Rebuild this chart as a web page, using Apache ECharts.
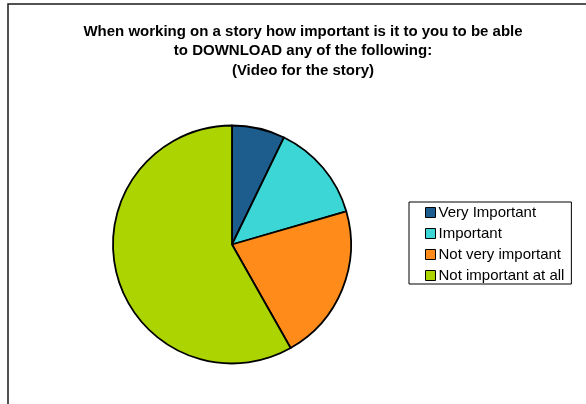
<!DOCTYPE html>
<html>
<head>
<meta charset="utf-8">
<script src="https://cdn.jsdelivr.net/npm/echarts@6/dist/echarts.min.js"></script>
<style>
  html, body { margin: 0; padding: 0; background: #ffffff; }
  #chart { width: 586px; height: 404px; }
</style>
</head>
<body>
<div id="chart"></div>
<script>
// Survey answers (share of respondents, %)
const categories = ['Very Important', 'Important', 'Not very important', 'Not important at all'];
const values = [7.2, 13.3, 21.3, 58.2];
const colors = ['#1c5d8e', '#3cd6d6', '#ff8c1a', '#abd400'];

const titleLines = [
  'When working on a story how important is it to you to be able',
  'to DOWNLOAD any of the following:',
  '(Video for the story)'
];

const FONT = '"Liberation Sans", Arial, Helvetica, sans-serif';

const chart = echarts.init(document.getElementById('chart'), null, { renderer: 'canvas' });

chart.setOption({
  backgroundColor: '#ffffff',
  animation: false,
  title: {
    text: titleLines.join('\n'),
    left: 298,
    top: 17,
    textAlign: 'center',
    textStyle: {
      fontFamily: FONT,
      fontSize: 15,
      fontWeight: 'bold',
      color: '#000000',
      lineHeight: 19.5
    }
  },
  legend: {
    orient: 'vertical',
    left: 409,
    top: 202,
    data: categories,
    icon: 'rect',
    itemWidth: 10,
    itemHeight: 10,
    itemGap: 6,
    padding: [3, 7, 1, 16],
    borderColor: '#000000',
    borderWidth: 1,
    backgroundColor: '#ffffff',
    selectedMode: false,
    itemStyle: { borderColor: '#000000', borderWidth: 1 },
    textStyle: {
      fontFamily: FONT,
      fontSize: 15,
      lineHeight: 15,
      color: '#000000',
      padding: [0, 0, 0, -2]
    }
  },
  graphic: [
    {
      type: 'rect',
      silent: true,
      shape: { x: 8, y: 4, width: 700, height: 500 },
      style: { fill: 'none', stroke: '#1a1a1a', lineWidth: 1.5 },
      z: 100
    }
  ],
  series: [
    {
      type: 'pie',
      center: [232, 244.5],
      radius: 119,
      startAngle: 90,
      clockwise: true,
      label: { show: false },
      labelLine: { show: false },
      emphasis: { disabled: true },
      itemStyle: { borderColor: '#000000', borderWidth: 1.8 },
      data: categories.map((name, i) => ({
        name: name,
        value: values[i],
        itemStyle: { color: colors[i] }
      }))
    }
  ]
});
</script>
</body>
</html>
